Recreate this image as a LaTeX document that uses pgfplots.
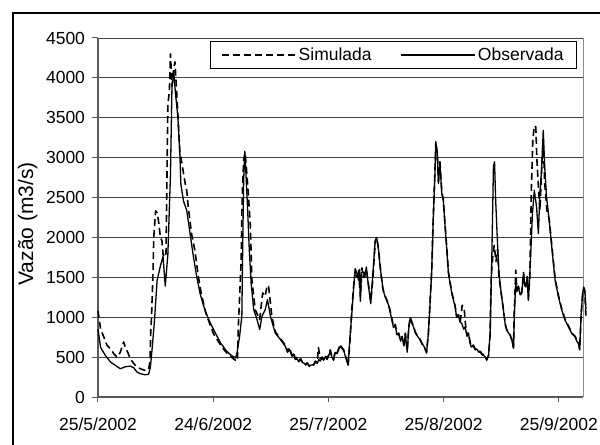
\documentclass[border=0pt]{standalone}
\usepackage{pgfplots}
\pgfplotsset{compat=1.18}
\usepackage{fontspec}
\setmainfont{Liberation Sans}

\begin{document}
\begin{tikzpicture}
\useasboundingbox (-98bp,-48bp) rectangle (502bp,397bp);
% chart frame
\draw[line width=2bp] (-85bp,-60bp) -- (-85bp,384bp) -- (520bp,384bp);
\begin{axis}[
  scale only axis, width=485bp, height=359bp,
  at={(0,0)}, anchor=south west,
  xmin=0, xmax=130.5, ymin=0, ymax=4500,
  xtick={0,31,62,93,124},
  xticklabels={25/5/2002,24/6/2002,25/7/2002,25/8/2002,25/9/2002},
  ytick={0,500,...,4500},
  axis x line*=bottom, axis y line*=left,
  axis line style={-, draw=black!65, line width=1.3bp},
  tick align=outside, major tick length=5.5bp,
  tick style={black!65, line width=1bp},
  ymajorgrids, grid style={black!75, line width=0.9bp},
  /pgf/number format/1000 sep={},
  /pgf/number format/assume math mode=true,
  ticklabel style={font=\fontsize{17.5bp}{20bp}\selectfont},
  xticklabel style={yshift=-12bp},
  yticklabel style={xshift=-4bp},
  ylabel={Vazão (m3/s)},
  ylabel style={font=\fontsize{21bp}{24bp}\selectfont, at={(axis description cs:-0.145,0.482)}, anchor=center},
  clip=false,
  legend columns=2,
  legend image code/.code={\draw[#1] (0bp,0bp) -- (74bp,0bp);},
  legend style={at={(axis description cs:0.9876,0.9916)}, anchor=north east,
    draw=black, line width=0.8bp, font=\fontsize{17.5bp}{20bp}\selectfont,
    inner xsep=11bp, inner ysep=4.5bp,
    /tikz/every even column/.append style={column sep=27bp}},
]
\draw[black!45, line width=1bp] (rel axis cs:1,0) -- (rel axis cs:1,1);

\addplot[black, line width=1.6bp, dash pattern=on 7bp off 4bp, line join=round] coordinates {
(0,1080) (0.7,850) (1.5,760) (2.4,650) (3.4,600) (4.3,540) (5.1,500) (6.0,560) (6.6,650) (6.9,690) (7.4,620) (8.0,560) (8.7,480) (9.6,420) (10.5,375) (11.4,354) (12.7,333) (13.6,340) (14.0,458) (14.2,833) (14.4,1000) (14.8,1560) (15.0,2000) (15.5,2333) (15.9,2310) (16.3,2200) (16.8,2000) (17.2,1958) (17.5,1790) (17.8,1750) (18.3,1800) (18.8,3667) (19.2,3830) (19.5,4300) (19.9,3900) (20.4,4125) (20.7,4200) (21.0,3960) (21.5,3540) (22.0,3080) (22.6,2920) (23.5,2667) (23.9,2580) (24.3,2375) (25.2,2040) (26.1,1830) (26.9,1540) (27.8,1290) (29.1,1040) (31.1,790) (33.0,650) (34.3,570) (35.6,510) (37.0,460) (37.5,450) (37.8,930) (38.5,1680) (38.8,2516) (39.2,2976) (39.6,3060) (40.1,2767) (40.5,2500) (41.0,2140) (41.4,1471) (42.3,1095) (43.5,970) (44.3,1304) (45.0,1262) (45.5,1400) (45.9,1388) (46.8,1000) (47.7,820) (49.1,730) (50.4,650) (51.0,570) (51.5,620) (52.2,520) (52.6,560) (53.1,480) (53.6,500) (54.0,450) (54.5,480) (55.0,440) (55.4,430) (55.9,410) (56.3,430) (56.8,390) (57.3,410) (58.0,400) (58.5,450) (59.0,430) (59.3,620) (59.8,480) (60.3,500) (60.7,470) (61.2,520) (61.6,480) (62.1,530) (62.5,590) (62.9,510) (63.4,470) (63.8,570) (64.3,550) (64.8,610) (65.2,660) (65.6,620) (66.1,590) (66.5,530) (66.9,470) (67.3,390) (67.8,700) (68.3,1100) (68.8,1400) (69.2,1580) (69.7,1500) (70.1,1600) (70.6,1250) (71.0,1620) (71.4,1500) (72.2,1600) (72.8,1400) (73.4,1200) (73.9,1450) (74.6,1950) (75.0,2000) (75.5,1850) (75.9,1650) (76.3,1480) (76.7,1350) (77.3,1260) (78.2,1160) (79.1,980) (79.5,880) (80.0,910) (80.4,790) (80.9,800) (81.4,710) (81.8,760) (82.3,650) (82.7,800) (83.2,580) (83.6,870) (84.0,1000) (84.5,930) (84.9,890) (85.4,810) (85.8,780) (86.3,750) (86.7,720) (87.2,670) (87.6,650) (88.0,610) (88.4,560) (88.9,800) (89.3,1150) (89.8,1600) (90.2,2250) (90.7,2900) (90.9,3200) (91.3,3050) (91.6,2700) (92.0,2950) (92.5,2580) (92.9,2480) (93.4,2150) (93.8,1900) (94.3,1560) (95.2,1310) (96.1,1140) (96.5,1010) (97.0,1030) (97.5,950) (98.0,1150) (98.5,1120) (99.0,850) (99.3,770) (99.7,800) (100.1,690) (100.4,630) (101.0,650) (101.5,600) (102.0,610) (102.4,570) (102.9,570) (103.3,540) (103.8,530) (104.2,510) (104.6,470) (105.1,520) (105.5,780) (105.8,1500) (106.2,1750) (106.6,1900) (107.1,1700) (107.5,1850) (107.9,1500) (108.5,1300) (109.1,1090) (109.6,910) (110.0,840) (110.5,810) (110.9,780) (111.4,710) (111.8,620) (112.0,1050) (112.4,1590) (112.7,1350) (113.1,1390) (113.6,1300) (114.0,1310) (114.5,1560) (114.8,1420) (115.1,1390) (115.5,1510) (115.8,1230) (116.2,1500) (116.6,2590) (117.0,3220) (117.4,3400) (117.8,3385) (118.1,2970) (118.4,2717) (118.9,2340) (119.4,2884) (119.8,3220) (120.2,2675) (120.8,2340) (121.4,2230) (122.1,1900) (123.0,1480) (123.9,1270) (124.8,1100) (125.7,970) (126.6,890) (127.5,800) (128.4,760) (128.8,710) (129.3,680) (129.6,600) (130.0,1030) (130.4,1280) (130.7,1360) (131.0,1300) (131.3,1000)
};
\addlegendentry{Simulada}

\addplot[black, line width=1.3bp, line join=round] coordinates {
(0,850) (0.7,620) (2.0,520) (3.4,437) (4.7,396) (6.0,354) (7.4,380) (8.7,387) (9.6,367) (10.5,312) (11.4,292) (12.7,279) (13.6,283) (14.1,375) (14.6,625) (15.2,958) (15.9,1458) (16.8,1646) (17.5,1760) (18.1,1390) (18.8,1790) (19.5,2790) (19.9,3875) (20.4,4070) (20.8,3830) (21.5,3500) (22.0,3080) (22.3,2667) (23.0,2458) (23.9,2333) (24.8,2040) (25.7,1750) (26.6,1500) (27.5,1290) (28.8,1083) (30.2,930) (31.6,800) (33.0,677) (34.3,593) (35.6,530) (37.0,490) (37.4,552) (38.1,760) (38.7,1010) (39.0,2100) (39.2,2725) (39.5,3080) (39.8,2810) (40.3,2307) (40.7,1850) (41.2,1430) (41.9,1095) (42.8,970) (43.5,845) (44.1,1010) (45.0,1095) (45.6,1220) (46.4,1010) (47.7,800) (49.1,720) (50.4,635) (51,560) (51.5,600) (52.2,510) (52.6,540) (53.1,470) (53.6,480) (54.0,440) (54.5,470) (55.0,430) (55.4,426) (55.9,400) (56.3,420) (56.8,385) (57.3,400) (58.0,405) (58.5,440) (59.0,420) (59.4,470) (59.8,450) (60.3,490) (60.7,460) (61.2,510) (61.6,470) (62.1,520) (62.5,585) (62.9,500) (63.4,460) (63.8,560) (64.3,543) (64.8,600) (65.2,640) (65.6,610) (66.1,585) (66.5,520) (66.9,460) (67.3,400) (67.8,752) (68.3,1045) (68.8,1380) (69.2,1610) (69.7,1547) (70.1,1463) (70.4,1600) (70.6,1200) (70.9,1560) (71.4,1568) (71.8,1500) (72.2,1630) (72.8,1380) (73.4,1170) (73.9,1505) (74.6,1965) (75.0,1990) (75.5,1840) (75.9,1630) (76.3,1500) (76.7,1338) (77.3,1254) (78.2,1150) (79.1,960) (79.5,870) (80.0,900) (80.4,780) (80.9,795) (81.4,700) (81.8,752) (82.3,640) (82.7,795) (83.2,560) (83.6,850) (84.0,990) (84.5,920) (84.9,878) (85.4,800) (85.8,773) (86.3,740) (86.7,710) (87.2,660) (87.6,648) (88.0,600) (88.4,550) (88.9,795) (89.3,1128) (89.8,1588) (90.2,2215) (90.7,2842) (90.9,3177) (91.3,3051) (91.6,2675) (92.0,2926) (92.5,2550) (92.9,2466) (93.4,2132) (93.8,1881) (94.3,1547) (95.2,1296) (96.1,1130) (96.5,1000) (97.0,1020) (97.4,940) (97.9,920) (98.4,850) (98.8,878) (99.3,760) (99.7,794) (100.1,680) (100.4,627) (101.0,640) (101.5,590) (102.0,600) (102.4,564) (102.9,560) (103.3,530) (103.8,520) (104.2,502) (104.6,460) (105.1,523) (105.5,794) (106.0,1840) (106.4,2884) (106.7,2950) (107.0,2466) (107.5,1923) (107.9,1547) (108.5,1296) (109.1,1087) (109.6,900) (110.0,836) (110.5,800) (110.9,773) (111.4,700) (111.8,610) (112.0,1003) (112.4,1421) (112.7,1320) (113.1,1379) (113.6,1280) (114.0,1296) (114.5,1547) (114.8,1400) (115.1,1379) (115.5,1500) (115.8,1212) (116.2,1547) (116.9,2300) (117.4,2592) (118.0,2383) (118.5,2048) (118.9,2550) (119.4,2884) (119.8,3344) (120.2,2884) (120.7,2508) (121.4,2215) (122.1,1881) (123.0,1463) (123.9,1254) (124.8,1087) (125.7,961) (126.6,878) (127.5,794) (128.4,752) (128.8,700) (129.3,669) (129.6,590) (130.0,1045) (130.4,1300) (130.7,1379) (131.0,1337) (131.3,1100)
};
\addlegendentry{Observada}
\end{axis}
\end{tikzpicture}
\end{document}
